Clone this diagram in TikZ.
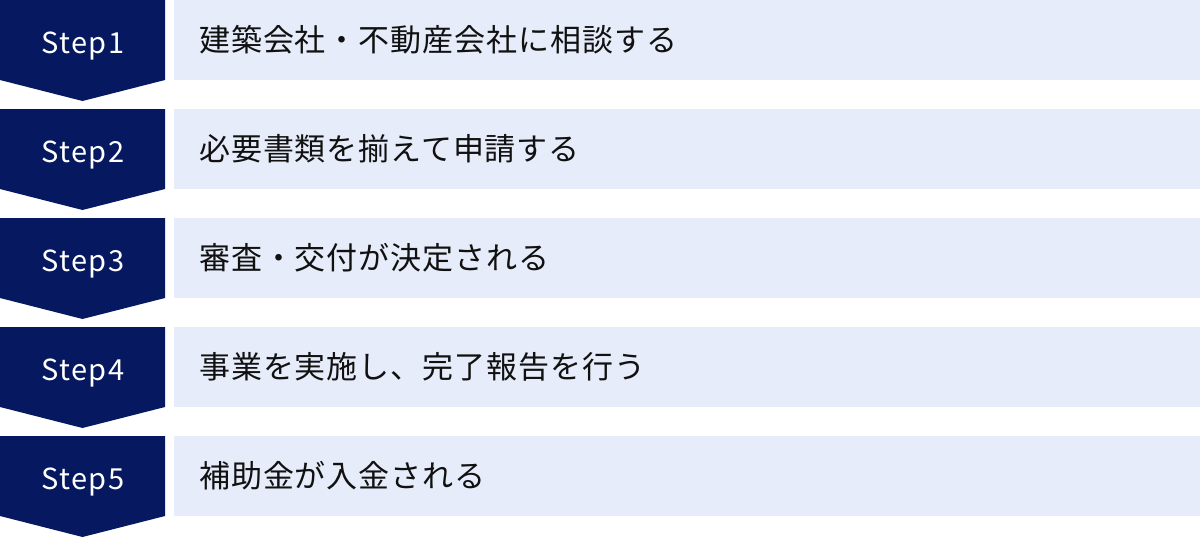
\documentclass[tikz,border=0pt]{standalone}
\usepackage{fontspec}
\setmainfont{Noto Sans CJK JP}
\newfontfamily\jpfont[LetterSpace=3]{Noto Sans CJK JP}
\newfontfamily\stepfont[LetterSpace=5]{Noto Sans CJK JP}
\definecolor{navy}{HTML}{061860}
\definecolor{barblue}{HTML}{E6ECF9}
\definecolor{txt}{HTML}{111111}
\tikzset{
  stepshape/.style={fill=navy,draw=none},
  barshape/.style={fill=barblue,draw=none},
  steplabel/.style={text=white,font=\stepfont\fontsize{29}{32}\selectfont,inner sep=0pt,anchor=base},
  barlabel/.style={text=txt,font=\jpfont\fontsize{31}{36}\selectfont,inner sep=0pt,anchor=west},
}
\begin{document}
\begin{tikzpicture}[x=1pt,y=-1pt]
\useasboundingbox (0,0) rectangle (1200,538);
\foreach \i/\lab [count=\n from 0] in {1/{建築会社・不動産会社に相談する},2/{必要書類を揃えて申請する},3/{審査・交付が決定される},4/{事業を実施し、完了報告を行う},5/{補助金が入金される}}{
  \pgfmathsetmacro{\t}{109*\n}
  \fill[stepshape] (0,\t) -- (165,\t) -- (165,\t+80) -- (82.5,\t+101) -- (0,\t+80) -- cycle;
  \fill[barshape] (174,\t) rectangle (1200,\t+80);
  \node[steplabel] (step\i) at (83,\t+53.3) {Step\i};
  \node[barlabel] (text\i) at (199,\t+39.5) {\lab};
}
\end{tikzpicture}
\end{document}
